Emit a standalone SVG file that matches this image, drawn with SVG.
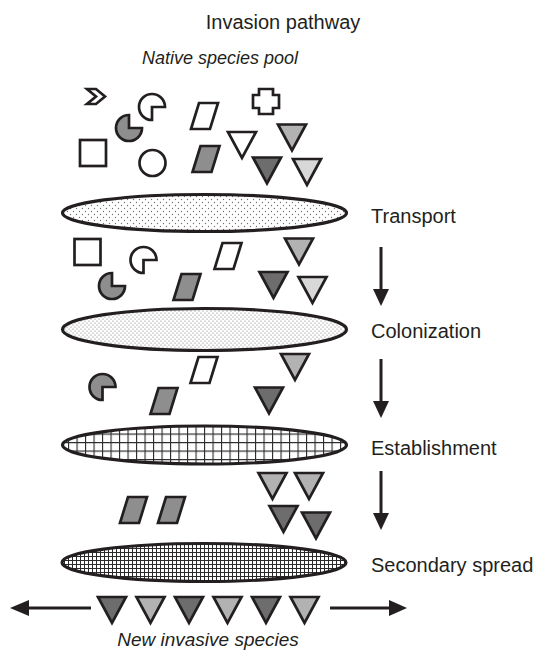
<svg xmlns="http://www.w3.org/2000/svg" xmlns:xlink="http://www.w3.org/1999/xlink" width="547" height="656" viewBox="0 0 547 656">
  <style>
    .sh { stroke: #231f20; stroke-width: 2.7; stroke-linejoin: miter; }
    .white { fill: #ffffff; }
    .grey { fill: #8e8e8e; }
    .mid { fill: #b2b2b2; }
    .dark { fill: #6d6d6d; }
    .light { fill: #d8d8d8; }
    .lens { stroke: #231f20; stroke-width: 3.2; }
    .label { font-family: "Liberation Sans", Arial, sans-serif; font-size: 20px; fill: #231f20; }
    .ital { font-family: "Liberation Sans", Arial, sans-serif; font-style: italic; fill: #231f20; }
    .shaft { stroke: #231f20; stroke-width: 3; fill: none; }
    .head { fill: #231f20; }
  </style>
  <defs>
    <!-- stage fills -->
    <pattern id="dotsSparse" patternUnits="userSpaceOnUse" width="6" height="6">
      <rect width="6" height="6" fill="#ffffff"/>
      <circle cx="1.5" cy="1.5" r="0.65" fill="#707070"/>
      <circle cx="4.5" cy="4.5" r="0.65" fill="#707070"/>
    </pattern>
    <pattern id="dotsDense" patternUnits="userSpaceOnUse" width="4" height="4">
      <rect width="4" height="4" fill="#ffffff"/>
      <circle cx="1" cy="1" r="0.6" fill="#707070"/>
      <circle cx="3" cy="3" r="0.6" fill="#707070"/>
    </pattern>
    <pattern id="gridCoarse" patternUnits="userSpaceOnUse" width="8.5" height="8.5">
      <rect width="8.5" height="8.5" fill="#ffffff"/>
      <path d="M0.5,0 V8.5 M0,0.5 H8.5" stroke="#2a2a2a" stroke-width="1.2" fill="none"/>
    </pattern>
    <pattern id="gridFine" patternUnits="userSpaceOnUse" width="4" height="4">
      <rect width="4" height="4" fill="#ffffff"/>
      <path d="M0.5,0 V4 M0,0.5 H4" stroke="#2a2a2a" stroke-width="1" fill="none"/>
    </pattern>
    <!-- species glyph shapes, centred on the origin -->
    <path id="tri" d="M-14,-13 H14 L0,13 Z"/>
    <path id="para" d="M-5.5,-13 H13.5 L5.5,13 H-13.5 Z"/>
    <path id="pacLR" d="M0,0 H13 A13,13 0 1 0 0,13 Z"/>
    <path id="pacUR" d="M0,0 V-13 A13,13 0 1 0 13,0 Z"/>
  </defs>

  <!-- headings -->
  <text class="label" x="283" y="29" text-anchor="middle">Invasion pathway</text>
  <text class="ital" x="220" y="64" text-anchor="middle" font-size="18">Native species pool</text>

  <!-- species in the native pool -->
  <g id="pool">
    <polygon class="sh white" points="87,89 96,89 105,96.5 96,104 87,104 96,96.5"/>
    <use href="#pacLR" class="sh white" x="152" y="107"/>
    <use href="#pacUR" class="sh grey" x="129" y="128"/>
    <rect class="sh white" x="80" y="140" width="26" height="26"/>
    <circle class="sh white" cx="152.5" cy="163" r="13"/>
    <use href="#para" class="sh white" x="204.5" y="116"/>
    <use href="#para" class="sh grey" x="206" y="159"/>
    <path class="sh white" d="M259,89 H273 V95 H279 V108 H273 V114 H259 V108 H253 V95 H259 Z"/>
    <use href="#tri" class="sh white" x="242" y="145"/>
    <use href="#tri" class="sh mid" x="292" y="137.5"/>
    <use href="#tri" class="sh dark" x="267" y="170.5"/>
    <use href="#tri" class="sh light" x="307" y="172"/>
  </g>

  <g id="stage-transport">
    <ellipse class="lens" fill="url(#dotsSparse)" cx="204.5" cy="213" rx="142" ry="18.5"/>
    <text class="label" x="371" y="223">Transport</text>
  </g>

  <g id="after-transport">
    <rect class="sh white" x="74.5" y="239" width="26" height="26"/>
    <use href="#pacLR" class="sh white" x="143.5" y="260"/>
    <use href="#pacUR" class="sh grey" x="112" y="286"/>
    <use href="#para" class="sh grey" x="187" y="287"/>
    <use href="#para" class="sh white" x="228" y="256"/>
    <use href="#tri" class="sh mid" x="299" y="251.5"/>
    <use href="#tri" class="sh dark" x="273.5" y="285"/>
    <use href="#tri" class="sh light" x="312.5" y="290"/>
  </g>

  <g id="stage-colonization">
    <ellipse class="lens" fill="url(#dotsDense)" cx="204.5" cy="329.5" rx="142" ry="21"/>
    <text class="label" x="371" y="338">Colonization</text>
  </g>

  <g id="after-colonization">
    <use href="#pacLR" class="sh grey" x="102.5" y="387"/>
    <use href="#para" class="sh white" x="204" y="370"/>
    <use href="#para" class="sh grey" x="164" y="401"/>
    <use href="#tri" class="sh mid" x="295" y="367"/>
    <use href="#tri" class="sh dark" x="269" y="400.5"/>
  </g>

  <g id="stage-establishment">
    <ellipse class="lens" fill="url(#gridCoarse)" cx="204.5" cy="445" rx="142" ry="19"/>
    <text class="label" x="371" y="455">Establishment</text>
  </g>

  <g id="after-establishment">
    <use href="#para" class="sh grey" x="133.5" y="510"/>
    <use href="#para" class="sh grey" x="171.5" y="510"/>
    <use href="#tri" class="sh mid" x="272.5" y="486"/>
    <use href="#tri" class="sh mid" x="309" y="486"/>
    <use href="#tri" class="sh dark" x="283.5" y="519"/>
    <use href="#tri" class="sh dark" x="316" y="525.5"/>
  </g>

  <g id="stage-secondary-spread">
    <ellipse class="lens" fill="url(#gridFine)" cx="204" cy="562.5" rx="142" ry="19"/>
    <text class="label" x="371" y="572">Secondary spread</text>
  </g>

  <g id="new-invasive">
    <use href="#tri" class="sh dark" x="112" y="610"/>
    <use href="#tri" class="sh mid" x="150.5" y="610"/>
    <use href="#tri" class="sh dark" x="189" y="610"/>
    <use href="#tri" class="sh mid" x="227.5" y="610"/>
    <use href="#tri" class="sh dark" x="266" y="610"/>
    <use href="#tri" class="sh mid" x="304.5" y="610"/>
    <text class="ital" x="208" y="646" text-anchor="middle" font-size="19">New invasive species</text>
  </g>

  <!-- connectors -->
  <g id="connectors">
    <line class="shaft" x1="381" y1="247" x2="381" y2="292"/>
    <polygon class="head" points="373,289 389,289 381,306"/>
    <line class="shaft" x1="381" y1="359" x2="381" y2="404"/>
    <polygon class="head" points="373,401 389,401 381,418"/>
    <line class="shaft" x1="381" y1="471" x2="381" y2="516"/>
    <polygon class="head" points="373,513 389,513 381,530"/>
    <line class="shaft" x1="91" y1="608" x2="26" y2="608"/>
    <polygon class="head" points="29,600 29,616 10,608"/>
    <line class="shaft" x1="330" y1="608" x2="392" y2="608"/>
    <polygon class="head" points="389,600 389,616 407,608"/>
  </g>
</svg>
